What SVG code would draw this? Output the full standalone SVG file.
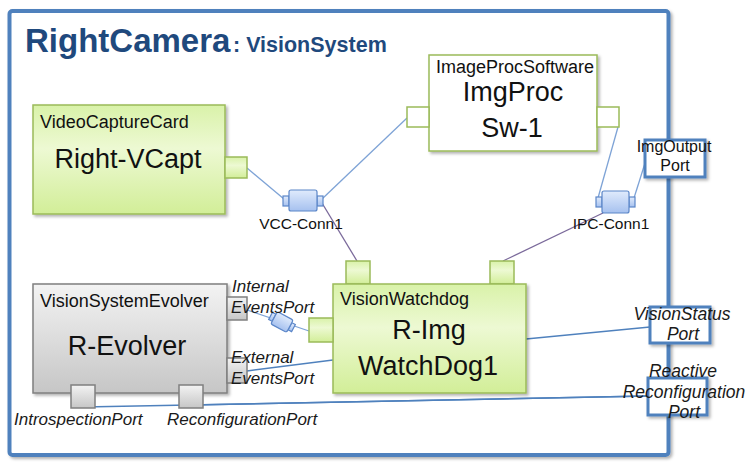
<svg xmlns="http://www.w3.org/2000/svg" width="747" height="463" viewBox="0 0 747 463">
  <defs>
    <linearGradient id="gGreen" x1="0" y1="0" x2="0" y2="1">
      <stop offset="0" stop-color="#d9f2a9"/>
      <stop offset="0.4" stop-color="#edf9d3"/>
      <stop offset="1" stop-color="#d2ee98"/>
    </linearGradient>
    <linearGradient id="gGray" x1="0" y1="0" x2="0" y2="1">
      <stop offset="0" stop-color="#f3f3f3"/>
      <stop offset="1" stop-color="#c6c6c6"/>
    </linearGradient>
    <linearGradient id="gBlue" x1="0" y1="0" x2="0" y2="1">
      <stop offset="0" stop-color="#e0ebfc"/>
      <stop offset="1" stop-color="#a6c1ef"/>
    </linearGradient>
    <filter id="shadow" x="-10%" y="-10%" width="130%" height="130%">
      <feDropShadow dx="2" dy="2" stdDeviation="1.5" flood-color="#000" flood-opacity="0.3"/>
    </filter>
  </defs>
  <style>
    .frame { fill: #ffffff; stroke: #4f81bd; stroke-width: 4; }
    .green { fill: url(#gGreen); stroke: #9bbb59; stroke-width: 1.5; }
    .white { fill: #ffffff; stroke: #9bbb59; stroke-width: 1.5; }
    .gray { fill: url(#gGray); stroke: #7f7f7f; stroke-width: 1.5; }
    .bport { fill: #ffffff; stroke: #4f81bd; stroke-width: 3; }
    .conn { fill: url(#gBlue); stroke: #5b86c8; stroke-width: 1.2; }
    .wire { fill: none; stroke: #7ea3d6; stroke-width: 1.3; }
    .wire2 { fill: none; stroke: #4f81bd; stroke-width: 1.5; }
    .wireP { fill: none; stroke: #7b6a9b; stroke-width: 1.3; }
    text { font-family: "Liberation Sans", Arial, sans-serif; fill: #111111; }
    .type { font-size: 18px; }
    .name { font-size: 27px; text-anchor: middle; }
    .lbl { font-size: 15.5px; text-anchor: middle; }
    .it { font-size: 17px; font-style: italic; fill: #1a1a1a; }
    .itm { font-size: 17.5px; font-style: italic; text-anchor: middle; fill: #1a1a1a; }
  </style>

  <!-- enclosing composite -->
  <g id="RightCamera">
    <rect class="frame" x="9.5" y="11" width="659" height="444" rx="3" filter="url(#shadow)"/>
    <text x="25" y="52" font-size="33" font-weight="bold" style="fill:#1f497d">RightCamera</text>
    <text x="233" y="52" font-size="21.5" font-weight="bold" style="fill:#1f497d">: VisionSystem</text>
  </g>

  <!-- connectors -->
  <g id="connectors">
    <line class="wire" x1="247" y1="168" x2="284" y2="199"/>
    <line class="wire" x1="322" y1="199" x2="407" y2="118"/>
    <line class="wireP" x1="322" y1="203" x2="357" y2="261"/>
    <line class="wire" x1="618" y1="127" x2="598" y2="198"/>
    <line class="wire" x1="634" y1="198" x2="646" y2="160"/>
    <line class="wireP" x1="603" y1="213" x2="503" y2="261"/>
    <line class="wire" x1="247" y1="310" x2="309" y2="331"/>
    <line class="wire2" x1="247" y1="371" x2="333" y2="360"/>
    <line class="wire2" x1="526" y1="339" x2="650" y2="327"/>
    <line class="wire2" x1="83" y1="407" x2="648" y2="396"/>
    <line class="wire2" x1="191" y1="405" x2="648" y2="396"/>
  </g>

  <g id="VCC-Conn1">
    <rect class="conn" x="283" y="196" width="6" height="10"/>
    <rect class="conn" x="317" y="196" width="6" height="10"/>
    <rect class="conn" x="289" y="190" width="28" height="21" rx="2"/>
    <text class="lbl" x="301" y="229">VCC-Conn1</text>
  </g>

  <g id="IPC-Conn1">
    <rect class="conn" x="596" y="197" width="6" height="10"/>
    <rect class="conn" x="629" y="197" width="6" height="10"/>
    <rect class="conn" x="602" y="191" width="27" height="22" rx="2"/>
    <text class="lbl" x="611" y="229">IPC-Conn1</text>
  </g>

  <g id="Events-Conn" transform="translate(282 322) rotate(28)">
    <rect class="conn" x="-13" y="-4" width="4" height="8"/>
    <rect class="conn" x="9" y="-4" width="4" height="8"/>
    <rect class="conn" x="-9" y="-7" width="18" height="14" rx="2"/>
  </g>

  <g id="Right-VCapt">
    <rect class="green" x="33" y="105" width="192" height="109" filter="url(#shadow)"/>
    <rect class="green" x="225" y="157" width="22" height="21"/>
    <text class="type" x="40" y="128">VideoCaptureCard</text>
    <text class="name" x="128" y="168">Right-VCapt</text>
  </g>

  <g id="ImgProc-Sw-1">
    <rect class="white" x="429" y="55" width="168" height="96" filter="url(#shadow)"/>
    <rect class="white" x="407" y="107" width="22" height="20"/>
    <rect class="white" x="597" y="107" width="22" height="20"/>
    <text class="type" x="436" y="73" font-size="17.5">ImageProcSoftware</text>
    <text class="name" x="513" y="101" font-size="26">ImgProc</text>
    <text class="name" x="512" y="137">Sw-1</text>
  </g>

  <g id="R-ImgWatchDog1">
    <rect class="green" x="346" y="261" width="24" height="23"/>
    <rect class="green" x="490" y="261" width="24" height="23"/>
    <rect class="green" x="333" y="284" width="193" height="109" filter="url(#shadow)"/>
    <rect class="green" x="309" y="318" width="24" height="24"/>
    <text class="type" x="340" y="305">VisionWatchdog</text>
    <text class="name" x="429" y="339">R-Img</text>
    <text class="name" x="428" y="375">WatchDog1</text>
  </g>

  <g id="R-Evolver">
    <rect class="gray" x="33" y="284" width="194" height="109" filter="url(#shadow)"/>
    <rect class="gray" x="227" y="297" width="20" height="23"/>
    <rect class="gray" x="227" y="358" width="20" height="25"/>
    <rect class="gray" x="71" y="385" width="24" height="23"/>
    <rect class="gray" x="179" y="385" width="24" height="23"/>
    <text class="type" x="40" y="307" font-size="18.5">VisionSystemEvolver</text>
    <text class="name" x="127" y="355">R-Evolver</text>
    <text class="it" x="232" y="292">Internal</text>
    <text class="it" x="231" y="313">EventsPort</text>
    <text class="it" x="231" y="363">External</text>
    <text class="it" x="231" y="384">EventsPort</text>
    <text class="it" x="14" y="425">IntrospectionPort</text>
    <text class="it" x="167" y="425">ReconfigurationPort</text>
  </g>

  <g id="ImgOutputPort">
    <rect class="bport" x="645" y="140" width="60" height="37" filter="url(#shadow)"/>
    <text x="674" y="152" font-size="16" text-anchor="middle">ImgOutput</text>
    <text x="675" y="171" font-size="16" text-anchor="middle">Port</text>
  </g>

  <g id="VisionStatusPort">
    <rect class="bport" x="650" y="307" width="60" height="36" filter="url(#shadow)"/>
    <text class="itm" x="682" y="320">VisionStatus</text>
    <text class="itm" x="683" y="340">Port</text>
  </g>

  <g id="ReactiveReconfigurationPort">
    <rect class="bport" x="648" y="378" width="59" height="37" filter="url(#shadow)"/>
    <text class="itm" x="683" y="377">Reactive</text>
    <text class="itm" x="684" y="398">Reconfiguration</text>
    <text class="itm" x="684" y="418">Port</text>
  </g>
</svg>
